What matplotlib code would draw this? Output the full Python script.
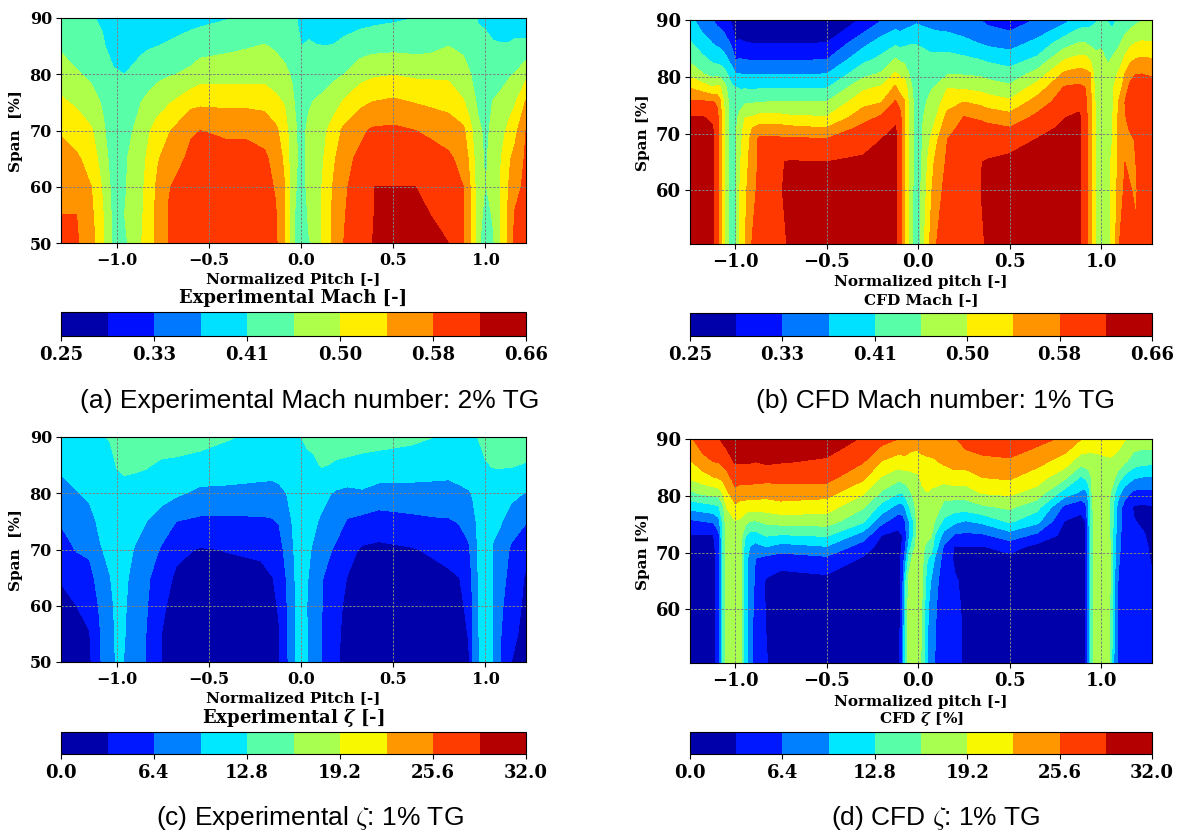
import matplotlib
matplotlib.use("Agg")
import matplotlib.pyplot as plt
import numpy as np

plt.rcParams["font.family"] = "DejaVu Serif"
plt.rcParams["font.weight"] = "bold"
plt.rcParams["mathtext.fontset"] = "dejavuserif"

W, H = 1179, 832

# experimental grid (columns of the field are listed left to right, bottom to top)
span_exp = [50, 55, 60, 65, 70, 75, 80, 85, 90]
span_cfd = [50.55, 60, 65, 69, 71, 73, 75.5, 78, 80.5, 83, 86, 90]

pitch_a = [-1.305, -1.22, -1.14, -1.08, -1.02, -0.96, -0.90, -0.87, -0.84, -0.78, -0.72, -0.60, -0.55,
           -0.40, -0.30, -0.20, -0.14, -0.09, -0.05, 0.00, 0.04, 0.08, 0.13, 0.18, 0.23, 0.32, 0.38, 0.40,
           0.50, 0.62, 0.70, 0.80, 0.88, 0.92, 0.96, 1.00, 1.04, 1.08, 1.13, 1.16, 1.22]
mach_exp = [
    [.590, .578, .566, .551, .533, .502, .476, .449, .426],
    [.582, .578, .558, .543, .517, .490, .459, .435, .418],
    [.553, .545, .537, .521, .500, .471, .447, .426, .416],
    [.504, .500, .492, .476, .463, .451, .435, .418, .410],
    [.447, .443, .439, .435, .430, .426, .418, .402, .389],
    [.447, .455, .451, .451, .443, .430, .414, .398, .381],
    [.476, .471, .471, .467, .459, .447, .424, .402, .375],
    [.494, .490, .488, .484, .473, .455, .430, .406, .371],
    [.512, .508, .504, .498, .488, .463, .435, .410, .377],
    [.549, .549, .545, .533, .512, .480, .445, .414, .381],
    [.580, .580, .576, .558, .533, .492, .451, .420, .389],
    [.603, .599, .596, .586, .574, .525, .463, .435, .398],
    [.607, .603, .599, .590, .578, .529, .476, .439, .402],
    [.607, .603, .599, .590, .572, .527, .478, .447, .412],
    [.605, .601, .597, .590, .572, .527, .479, .452, .419],
    [.603, .599, .594, .586, .562, .525, .480, .457, .426],
    [.586, .582, .574, .562, .545, .508, .471, .451, .426],
    [.537, .537, .537, .529, .517, .492, .463, .443, .422],
    [.467, .471, .471, .471, .467, .463, .451, .435, .418],
    [.410, .414, .435, .443, .443, .428, .422, .414, .410],
    [.451, .463, .467, .467, .463, .451, .426, .420, .394],
    [.467, .476, .476, .476, .471, .459, .432, .416, .389],
    [.517, .512, .508, .500, .492, .467, .439, .414, .389],
    [.549, .549, .545, .533, .517, .480, .447, .416, .394],
    [.578, .576, .574, .566, .545, .500, .455, .422, .398],
    [.599, .594, .590, .586, .570, .527, .480, .435, .400],
    [.615, .607, .603, .590, .582, .537, .488, .441, .402],
    [.627, .623, .619, .594, .584, .539, .490, .441, .404],
    [.631, .627, .619, .599, .586, .545, .494, .443, .408],
    [.631, .627, .619, .594, .578, .535, .488, .441, .414],
    [.625, .619, .607, .592, .572, .529, .488, .443, .418],
    [.619, .607, .599, .584, .562, .521, .488, .455, .422],
    [.582, .580, .578, .566, .545, .500, .463, .451, .422],
    [.533, .533, .533, .521, .504, .476, .455, .439, .422],
    [.471, .476, .471, .467, .463, .447, .435, .422, .412],
    [.410, .439, .453, .451, .447, .430, .418, .422, .408],
    [.447, .459, .467, .467, .463, .457, .432, .422, .385],
    [.496, .496, .494, .492, .480, .463, .443, .418, .385],
    [.545, .549, .541, .533, .508, .480, .451, .418, .389],
    [.590, .582, .562, .549, .525, .492, .457, .420, .398],
    [.603, .594, .590, .584, .578, .541, .484, .426, .381],
]

pitch_b = [-1.247, -1.18, -1.125, -1.10, -1.085, -1.06, -1.02, -1.0, -0.975, -0.945, -0.91, -0.87, -0.76,
           -0.70, -0.50, -0.30, -0.20, -0.125, -0.10, -0.075, -0.05, -0.01, 0.03, 0.06, 0.10, 0.16, 0.25,
           0.34, 0.38, 0.50, 0.65, 0.80, 0.88, 0.91, 0.94, 0.97, 1.0, 1.02, 1.04, 1.06, 1.10, 1.13, 1.16,
           1.19, 1.22, 1.278]
mach_cfd = [
    [.640, .640, .635, .630, .625, .619, .585, .537, .487, .447, .418, .385],
    [.640, .640, .637, .632, .627, .620, .585, .520, .458, .425, .390, .352],
    [.625, .625, .625, .625, .622, .612, .583, .500, .440, .407, .372, .335],
    [.600, .600, .600, .600, .600, .595, .570, .510, .445, .400, .365, .320],
    [.565, .565, .565, .565, .565, .560, .550, .505, .440, .400, .360, .318],
    [.496, .496, .496, .498, .500, .500, .490, .470, .430, .390, .350, .310],
    [.430, .430, .430, .430, .430, .430, .430, .425, .390, .360, .325, .285],
    [.445, .445, .445, .445, .445, .440, .430, .417, .376, .332, .293, .268],
    [.496, .496, .490, .480, .475, .465, .440, .412, .373, .335, .295, .265],
    [.537, .530, .525, .520, .510, .495, .450, .412, .372, .332, .292, .262],
    [.578, .560, .550, .545, .535, .495, .452, .410, .372, .330, .290, .260],
    [.600, .590, .585, .585, .550, .505, .455, .412, .372, .330, .288, .258],
    [.612, .616, .617, .585, .550, .505, .458, .413, .372, .330, .288, .258],
    [.622, .626, .621, .585, .545, .500, .458, .413, .372, .330, .288, .258],
    [.640, .635, .619, .580, .537, .496, .457, .414, .373, .332, .291, .265],
    [.645, .645, .625, .605, .590, .560, .525, .489, .443, .404, .360, .295],
    [.650, .650, .640, .619, .600, .582, .536, .504, .460, .425, .390, .330],
    [.625, .625, .625, .625, .622, .605, .583, .545, .500, .460, .405, .350],
    [.600, .600, .600, .600, .600, .590, .565, .520, .490, .450, .400, .345],
    [.540, .540, .540, .540, .540, .540, .540, .520, .485, .445, .405, .350],
    [.490, .490, .490, .490, .490, .490, .490, .475, .455, .440, .410, .355],
    [.415, .425, .430, .430, .430, .430, .430, .430, .430, .430, .412, .365],
    [.490, .475, .465, .460, .460, .455, .450, .440, .430, .425, .408, .358],
    [.535, .520, .510, .490, .480, .470, .460, .450, .440, .430, .395, .360],
    [.578, .565, .550, .530, .510, .495, .480, .460, .440, .428, .393, .355],
    [.600, .590, .585, .578, .570, .550, .520, .495, .452, .430, .393, .350],
    [.610, .605, .600, .592, .585, .578, .538, .492, .452, .423, .384, .340],
    [.615, .618, .618, .600, .592, .570, .527, .484, .448, .414, .370, .332],
    [.622, .630, .622, .598, .590, .560, .520, .477, .441, .408, .363, .322],
    [.640, .635, .630, .600, .580, .550, .505, .465, .430, .397, .355, .310],
    [.645, .640, .635, .620, .601, .586, .556, .515, .470, .423, .383, .335],
    [.645, .645, .640, .634, .628, .617, .599, .583, .545, .496, .435, .360],
    [.625, .625, .625, .625, .625, .625, .606, .587, .555, .510, .455, .390],
    [.600, .600, .600, .600, .600, .600, .595, .580, .550, .510, .455, .395],
    [.555, .555, .550, .550, .550, .550, .550, .545, .540, .495, .445, .400],
    [.490, .490, .490, .490, .490, .490, .490, .480, .470, .470, .440, .410],
    [.450, .460, .470, .475, .475, .475, .475, .475, .470, .465, .450, .420],
    [.465, .475, .480, .485, .480, .480, .475, .470, .468, .458, .440, .415],
    [.490, .490, .490, .490, .490, .485, .480, .475, .470, .450, .430, .412],
    [.500, .500, .500, .495, .490, .490, .487, .490, .475, .460, .430, .405],
    [.578, .560, .550, .550, .550, .550, .545, .520, .505, .475, .450, .420],
    [.600, .585, .578, .565, .565, .575, .578, .560, .537, .505, .470, .430],
    [.605, .580, .570, .570, .585, .592, .600, .590, .565, .530, .485, .435],
    [.585, .572, .578, .582, .595, .600, .605, .600, .577, .540, .496, .445],
    [.600, .600, .600, .600, .605, .607, .610, .610, .578, .544, .500, .452],
    [.600, .600, .600, .600, .600, .600, .600, .600, .572, .540, .498, .457],
]

pitch_c = [-1.305, -1.22, -1.15, -1.09, -1.04, -1.0, -0.96, -0.90, -0.84, -0.76, -0.68, -0.55, -0.40, -0.22,
           -0.16, -0.12, -0.08, -0.03, 0.00, 0.03, 0.07, 0.11, 0.19, 0.25, 0.33, 0.42, 0.60, 0.72, 0.80,
           0.86, 0.91, 0.93, 0.96, 1.00, 1.04, 1.08, 1.14, 1.22]
zeta_exp = [
    [1.5, 1.9, 2.5, 3.4, 4.9, 6.7, 8.5, 10.2, 12.0],
    [2.0, 2.6, 3.2, 4.3, 6.6, 8.0, 9.4, 11.0, 12.4],
    [2.7, 3.1, 4.0, 5.3, 7.0, 8.5, 10.2, 11.6, 12.5],
    [6.3, 6.4, 7.0, 8.0, 9.4, 10.4, 11.0, 12.0, 12.7],
    [8.5, 8.7, 9.0, 9.5, 10.3, 10.9, 11.4, 12.3, 12.9],
    [10.0, 10.1, 10.2, 10.4, 11.0, 11.6, 12.2, 12.9, 13.5],
    [9.5, 9.7, 9.9, 10.2, 10.8, 11.4, 12.3, 13.1, 14.0],
    [7.8, 7.9, 8.0, 8.4, 9.3, 10.7, 12.0, 13.1, 14.0],
    [6.2, 6.3, 6.6, 7.0, 8.4, 9.6, 11.5, 13.0, 14.0],
    [3.2, 3.2, 3.5, 4.4, 6.0, 8.4, 10.6, 12.4, 14.2],
    [2.4, 2.5, 2.6, 2.8, 3.8, 6.4, 10.1, 12.3, 14.0],
    [2.0, 2.1, 2.2, 2.4, 3.0, 5.8, 8.9, 11.8, 13.8],
    [2.0, 2.1, 2.2, 2.4, 3.3, 5.8, 8.8, 11.5, 13.0],
    [2.1, 2.2, 2.3, 2.6, 3.6, 5.9, 8.6, 11.0, 12.2],
    [2.4, 2.5, 2.7, 3.1, 4.6, 6.1, 8.6, 10.8, 12.0],
    [3.0, 3.1, 3.4, 3.8, 5.2, 6.6, 8.9, 11.0, 12.2],
    [5.8, 6.0, 6.2, 6.6, 7.5, 8.3, 9.6, 11.0, 12.0],
    [9.6, 9.7, 9.8, 9.9, 10.2, 10.6, 11.0, 11.6, 12.3],
    [10.3, 10.5, 10.6, 10.7, 10.9, 11.3, 11.6, 12.0, 12.8],
    [9.8, 9.7, 9.6, 9.8, 10.1, 11.0, 11.3, 12.2, 13.2],
    [7.6, 7.8, 8.0, 8.6, 9.2, 10.0, 10.9, 12.4, 13.5],
    [6.4, 6.4, 6.5, 6.6, 7.8, 9.2, 10.4, 13.0, 13.8],
    [3.5, 3.6, 3.8, 4.6, 5.8, 7.8, 9.2, 12.5, 14.0],
    [2.4, 2.5, 2.7, 3.1, 4.2, 6.1, 8.8, 12.3, 14.0],
    [1.7, 1.8, 1.9, 2.2, 2.8, 5.5, 9.2, 11.9, 14.0],
    [1.5, 1.6, 1.7, 2.0, 2.5, 5.0, 8.4, 11.7, 13.8],
    [1.7, 1.8, 1.9, 2.2, 3.0, 5.6, 8.5, 11.3, 13.4],
    [1.8, 1.9, 2.0, 2.4, 3.6, 6.0, 8.5, 11.0, 12.8],
    [2.0, 2.1, 2.3, 2.7, 4.2, 6.1, 8.5, 10.8, 12.3],
    [2.5, 2.6, 2.7, 3.2, 5.0, 6.6, 9.0, 11.0, 12.2],
    [3.0, 3.3, 3.8, 4.6, 6.0, 7.6, 9.4, 11.0, 12.1],
    [6.4, 6.5, 6.6, 7.0, 7.8, 8.6, 9.8, 11.3, 12.3],
    [9.3, 9.4, 9.4, 9.6, 9.8, 10.2, 10.6, 11.6, 12.9],
    [11.0, 11.2, 11.2, 11.2, 11.3, 11.4, 11.6, 12.5, 14.0],
    [9.5, 9.6, 9.5, 9.4, 9.4, 10.2, 11.0, 13.0, 14.5],
    [6.4, 6.6, 7.0, 7.6, 8.4, 9.9, 11.2, 13.0, 14.4],
    [3.2, 4.0, 4.7, 5.3, 5.9, 8.0, 10.5, 13.0, 14.3],
    [1.8, 2.2, 2.5, 2.8, 4.0, 6.6, 9.4, 12.6, 14.5],
]

pitch_d = [-1.247, -1.18, -1.12, -1.09, -1.07, -1.045, -1.0, -0.97, -0.945, -0.92, -0.89, -0.83, -0.75, -0.50,
           -0.30, -0.20, -0.11, -0.085, -0.07, -0.05, -0.025, 0.00, 0.02, 0.05, 0.07, 0.09, 0.14, 0.20, 0.26,
           0.35, 0.50, 0.65, 0.80, 0.89, 0.915, 0.93, 0.95, 0.98, 1.03, 1.05, 1.07, 1.09, 1.13, 1.18, 1.23, 1.278]
zeta_cfd = [
    [1.2, 1.4, 1.6, 2.0, 2.4, 2.9, 5.8, 10.6, 15.3, 19.4, 22.0, 25.0],
    [1.2, 1.4, 1.6, 2.0, 2.4, 2.9, 6.4, 11.2, 16.6, 20.6, 24.4, 27.5],
    [1.4, 1.5, 1.7, 2.1, 2.4, 3.0, 6.8, 11.8, 17.1, 22.0, 25.6, 28.3],
    [5.0, 5.0, 5.0, 5.0, 5.0, 5.5, 8.5, 12.5, 17.5, 22.3, 25.8, 28.5],
    [12.0, 12.0, 12.0, 12.0, 12.0, 12.2, 13.0, 14.8, 19.2, 23.0, 26.5, 29.3],
    [18.0, 18.0, 18.0, 18.0, 18.0, 18.0, 18.3, 19.3, 21.8, 24.0, 27.5, 29.9],
    [18.5, 18.5, 18.5, 18.6, 18.7, 18.9, 19.0, 21.7, 24.5, 27.0, 29.1, 30.5],
    [16.5, 16.5, 16.5, 16.5, 16.7, 17.5, 18.7, 21.0, 24.0, 26.5, 29.0, 30.5],
    [11.0, 11.0, 11.0, 11.0, 11.3, 13.0, 17.0, 20.8, 24.0, 26.7, 29.0, 30.5],
    [7.6, 7.7, 8.0, 8.4, 9.5, 11.5, 16.0, 20.5, 24.0, 26.6, 29.0, 30.6],
    [5.2, 5.5, 6.0, 6.4, 8.5, 11.5, 15.8, 20.5, 24.0, 26.5, 28.8, 30.6],
    [3.4, 2.9, 2.8, 5.5, 9.6, 13.0, 16.7, 20.6, 23.6, 26.4, 29.3, 31.0],
    [1.2, 1.4, 1.8, 4.8, 8.3, 12.5, 17.3, 21.2, 24.0, 26.4, 29.0, 30.6],
    [1.2, 1.4, 2.2, 5.8, 9.4, 13.1, 17.5, 20.6, 23.6, 26.5, 28.4, 30.5],
    [0.9, 1.1, 1.6, 2.9, 4.7, 8.1, 13.3, 16.3, 19.6, 22.8, 25.8, 28.5],
    [0.8, 0.9, 1.1, 1.6, 2.1, 3.1, 7.4, 11.6, 15.5, 18.7, 22.2, 27.0],
    [1.0, 1.0, 1.1, 1.4, 1.8, 2.4, 4.4, 8.5, 13.0, 16.7, 20.9, 25.6],
    [6.4, 6.0, 5.5, 4.5, 3.6, 3.2, 4.8, 8.5, 13.0, 17.0, 21.2, 25.3],
    [13.0, 13.0, 12.0, 8.0, 6.0, 5.5, 6.4, 10.0, 14.0, 17.3, 21.4, 25.0],
    [17.5, 17.5, 17.0, 14.0, 11.0, 9.0, 9.5, 12.5, 15.2, 17.6, 21.0, 24.5],
    [18.0, 18.0, 18.0, 17.5, 15.0, 13.0, 13.0, 15.0, 16.8, 18.3, 20.8, 24.2],
    [17.0, 17.5, 17.8, 18.0, 18.0, 18.0, 18.0, 18.0, 18.0, 18.5, 20.8, 24.0],
    [15.6, 16.0, 16.5, 17.0, 17.3, 17.8, 18.0, 18.0, 18.5, 19.8, 21.7, 23.8],
    [9.6, 10.0, 11.0, 13.0, 14.5, 17.3, 17.8, 18.2, 19.1, 20.5, 21.9, 24.0],
    [8.0, 8.5, 9.5, 12.0, 14.5, 16.3, 17.4, 18.1, 18.7, 20.2, 22.0, 24.0],
    [6.4, 6.8, 7.5, 9.5, 11.5, 12.8, 16.0, 17.5, 18.3, 20.5, 22.1, 24.2],
    [4.6, 4.6, 4.8, 5.2, 6.0, 8.5, 12.0, 15.2, 17.0, 20.3, 22.9, 24.8],
    [4.4, 4.1, 3.5, 2.7, 3.0, 5.9, 10.3, 14.3, 17.6, 20.8, 23.9, 25.3],
    [2.5, 2.5, 2.5, 2.6, 3.0, 5.6, 9.4, 14.3, 17.6, 20.6, 23.9, 27.0],
    [1.5, 1.6, 1.7, 2.2, 3.0, 5.8, 10.4, 15.4, 19.4, 22.2, 24.7, 27.8],
    [0.9, 1.0, 1.4, 2.4, 4.4, 8.0, 13.3, 16.6, 19.8, 22.6, 25.1, 28.0],
    [0.9, 1.0, 1.2, 1.6, 2.2, 5.6, 10.5, 13.9, 17.9, 20.6, 23.4, 26.7],
    [1.0, 1.0, 1.1, 1.4, 1.8, 2.3, 3.1, 5.6, 11.4, 16.3, 21.0, 25.0],
    [1.5, 1.5, 1.5, 1.6, 1.8, 2.0, 2.3, 4.1, 9.0, 12.0, 17.2, 22.5],
    [2.5, 2.5, 2.5, 2.5, 2.5, 2.7, 3.2, 5.5, 8.6, 13.0, 17.7, 21.8],
    [8.0, 8.0, 8.0, 8.0, 8.0, 8.0, 8.5, 9.0, 10.5, 14.0, 17.6, 21.5],
    [15.0, 15.0, 15.0, 15.0, 15.0, 15.0, 15.3, 15.6, 16.0, 16.0, 17.8, 21.3],
    [18.0, 18.0, 18.0, 18.0, 18.0, 18.0, 18.0, 18.0, 18.0, 17.5, 18.0, 21.3],
    [17.6, 17.6, 17.6, 17.6, 17.6, 17.6, 17.6, 17.6, 17.6, 17.5, 18.6, 21.2],
    [15.5, 15.7, 16.0, 16.0, 16.0, 15.8, 15.5, 15.4, 16.0, 17.0, 18.7, 21.3],
    [9.6, 10.0, 10.5, 11.0, 11.3, 11.6, 12.0, 12.3, 13.6, 16.5, 18.4, 21.0],
    [6.2, 6.3, 6.5, 7.0, 7.5, 8.0, 8.2, 8.8, 10.8, 14.3, 18.0, 20.6],
    [4.5, 4.5, 4.5, 4.6, 4.7, 4.5, 4.5, 4.8, 7.8, 11.5, 16.4, 19.4],
    [4.4, 4.4, 4.2, 4.0, 3.8, 3.5, 3.3, 2.9, 5.6, 9.6, 14.4, 18.0],
    [4.0, 4.0, 3.9, 3.8, 3.7, 3.4, 2.8, 2.6, 5.5, 9.1, 13.7, 17.8],
    [3.8, 3.6, 3.4, 3.0, 2.8, 2.6, 2.5, 3.0, 5.4, 9.0, 13.7, 18.0],
]

mach_levels = np.linspace(0.25, 0.66, 11)
zeta_levels = np.linspace(0.0, 32.0, 11)
mach_colors = ["#0000aa", "#0010ff", "#0078ff", "#00e0ff", "#58ffa8", "#adff4a", "#ffee00", "#ff9400", "#ff3800", "#b40000"]
zeta_colors = ["#0000aa", "#0018ff", "#0080ff", "#00e8ff", "#58ffa8", "#a8ff50", "#f8f800", "#ff9800", "#ff3c00", "#b40000"]
mach_ticks = [0.25, 0.332, 0.414, 0.496, 0.578, 0.66]
mach_tick_labels = ["0.25", "0.33", "0.41", "0.50", "0.58", "0.66"]
zeta_ticks = [0.0, 6.4, 12.8, 19.2, 25.6, 32.0]
zeta_tick_labels = ["0.0", "6.4", "12.8", "19.2", "25.6", "32.0"]
pitch_ticks = [-1.0, -0.5, 0.0, 0.5, 1.0]


def box(fig, left, top, right, bottom):
    return fig.add_axes([left / W, 1 - bottom / H, (right - left) / W, (bottom - top) / H])


def label(fig, x, y, text, **kwargs):
    fig.text(x / W, 1 - y / H, text, ha="center", va="center", **kwargs)


def panel(fig, frame, cbar_frame, pitch, span, field, levels, colors, ticks, tick_labels, xlim, ylim, yticks, tick_size):
    ax = box(fig, *frame)
    cs = ax.contourf(pitch, span, np.array(field).T, levels=levels, colors=colors)
    ax.set_xlim(xlim)
    ax.set_ylim(ylim)
    ax.set_xticks(pitch_ticks)
    ax.set_yticks(yticks)
    ax.tick_params(labelsize=tick_size, pad=3)
    ax.grid(color="#808080", linestyle=(0, (2.5, 1.5)), linewidth=0.7)

    cax = box(fig, *cbar_frame)
    cbar = fig.colorbar(cs, cax=cax, orientation="horizontal")
    cbar.set_ticks(ticks)
    cbar.set_ticklabels(tick_labels)
    cbar.ax.tick_params(labelsize=13, pad=4)
    return ax


fig = plt.figure(figsize=(W / 100, H / 100), dpi=100)

panel(fig, (61, 18, 526, 243), (61, 312, 526, 336), pitch_a, span_exp, mach_exp, mach_levels, mach_colors,
      mach_ticks, mach_tick_labels, (-1.305, 1.22), (50, 90), [50, 60, 70, 80, 90], 11.5)
panel(fig, (690, 20, 1152, 244), (690, 313, 1152, 336), pitch_b, span_cfd, mach_cfd, mach_levels, mach_colors,
      mach_ticks, mach_tick_labels, (-1.247, 1.278), (50.55, 90), [60, 70, 80, 90], 13)
panel(fig, (61, 437, 526, 662), (61, 732, 526, 754), pitch_c, span_exp, zeta_exp, zeta_levels, zeta_colors,
      zeta_ticks, zeta_tick_labels, (-1.305, 1.22), (50, 90), [50, 60, 70, 80, 90], 11.5)
panel(fig, (690, 439, 1152, 663), (690, 732, 1152, 754), pitch_d, span_cfd, zeta_cfd, zeta_levels, zeta_colors,
      zeta_ticks, zeta_tick_labels, (-1.247, 1.278), (50.55, 90), [60, 70, 80, 90], 13)

label(fig, 293, 279, "Normalized Pitch [-]", fontsize=11)
label(fig, 293, 298, "Experimental Mach [-]", fontsize=13)
label(fig, 921, 282, "Normalized pitch [-]", fontsize=11)
label(fig, 921, 300, "CFD Mach [-]", fontsize=11)
label(fig, 293, 698, "Normalized Pitch [-]", fontsize=11)
label(fig, 293, 718, r"Experimental $\boldsymbol{\zeta}$ [-]", fontsize=13)
label(fig, 921, 702, "Normalized pitch [-]", fontsize=11)
label(fig, 921, 719, r"CFD $\boldsymbol{\zeta}$ [%]", fontsize=11)

label(fig, 16, 131, "Span  [%]", fontsize=11, rotation=90)
label(fig, 16, 550, "Span  [%]", fontsize=11, rotation=90)
label(fig, 643, 133, "Span [%]", fontsize=11, rotation=90)
label(fig, 643, 552, "Span [%]", fontsize=11, rotation=90)

caption = dict(fontsize=19, family="Liberation Sans", fontweight="normal", math_fontfamily="cm")
label(fig, 310, 401, "(a) Experimental Mach number: 2% TG", **caption)
label(fig, 935, 401, "(b) CFD Mach number: 1% TG", **caption)
label(fig, 310, 818, r"(c) Experimental $\zeta$: 1% TG", **caption)
label(fig, 936, 818, r"(d) CFD $\zeta$: 1% TG", **caption)

fig.savefig("out.png", dpi=100)
